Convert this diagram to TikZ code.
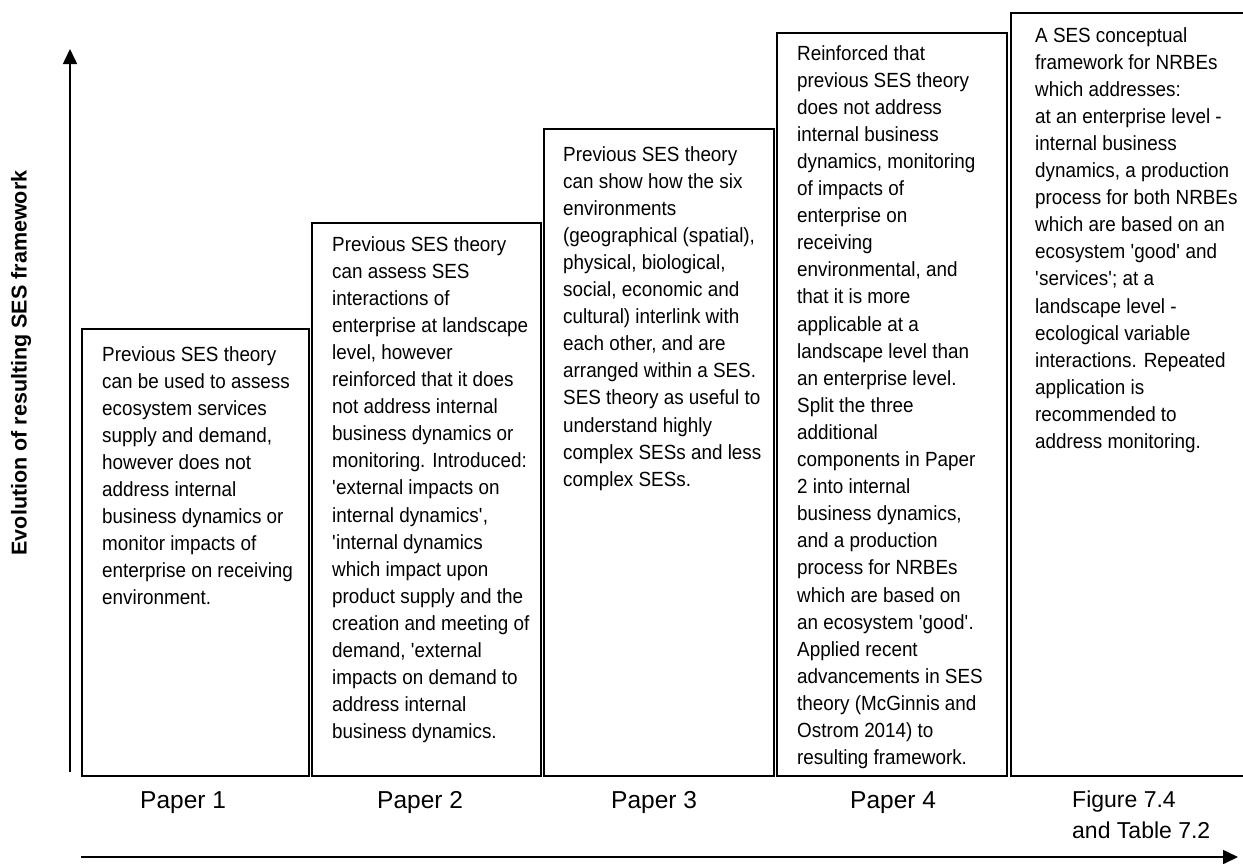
\documentclass[tikz,border=0pt]{standalone}
\usepackage{fontspec}
\setmainfont{Liberation Sans}
\newfontfamily\narrowfont{Liberation Sans}[FakeStretch=0.92]
\usetikzlibrary{arrows.meta}
\newcommand{\sq}{\textquotesingle}
\tikzset{
  stage/.style={draw=black, line width=1.6pt, anchor=north west, inner sep=0pt},
  stagetext/.style={anchor=north west, inner sep=0pt, align=left,
    font=\narrowfont\fontsize{20.5}{27.1}\selectfont},
  paperlabel/.style={anchor=base west, inner sep=0pt,
    font=\fontsize{24.5}{30}\selectfont},
  axis/.style={line width=1.6pt, -{Triangle[length=15pt,width=14pt]}}
}
\begin{document}
\begin{tikzpicture}[x=1pt,y=-1pt]
\useasboundingbox (0,0) rectangle (1243,863);
\clip (0,0) rectangle (1243,863);

% stage boxes, stepping up from left to right
\node[stage, minimum width=227pt, minimum height=447pt] (b1) at (81,328) {};
\node[stage, minimum width=229pt, minimum height=553pt] (b2) at (311,222) {};
\node[stage, minimum width=230pt, minimum height=647pt] (b3) at (543,128) {};
\node[stage, minimum width=230pt, minimum height=743pt] (b4) at (776,32) {};
\node[stage, minimum width=250pt, minimum height=763pt] (b5) at (1010,12) {};

\node[stagetext] (t1) at (102,346) {Previous SES theory\\can be used to assess\\ecosystem services\\supply and demand,\\however does not\\address internal\\business dynamics or\\monitor impacts of\\enterprise on receiving\\environment.};

\node[stagetext] (t2) at (332,236) {Previous SES theory\\can assess SES\\interactions of\\enterprise at landscape\\level, however\\reinforced that it does\\not address internal\\business dynamics or\\monitoring. Introduced:\\\sq external impacts on\\internal dynamics\sq,\\\sq internal dynamics\\which impact upon\\product supply and the\\creation and meeting of\\demand, \sq external\\impacts on demand to\\address internal\\business dynamics.};

\node[stagetext] (t3) at (563,146) {Previous SES theory\\can show how the six\\environments\\(geographical (spatial),\\physical, biological,\\social, economic and\\cultural) interlink with\\each other, and are\\arranged within a SES.\\SES theory as useful to\\understand highly\\complex SESs and less\\complex SESs.};

\node[stagetext] (t4) at (797,45) {Reinforced that\\previous SES theory\\does not address\\internal business\\dynamics, monitoring\\of impacts of\\enterprise on\\receiving\\environmental, and\\that it is more\\applicable at a\\landscape level than\\an enterprise level.\\Split the three\\additional\\components in Paper\\2 into internal\\business dynamics,\\and a production\\process for NRBEs\\which are based on\\an ecosystem \sq good\sq.\\Applied recent\\advancements in SES\\theory (McGinnis and\\Ostrom 2014) to\\resulting framework.};

\node[stagetext] (t5) at (1035,27) {A SES conceptual\\framework for NRBEs\\which addresses:\\at an enterprise level -\\internal business\\dynamics, a production\\process for both NRBEs\\which are based on an\\ecosystem \sq good\sq{} and\\\sq services\sq; at a\\landscape level -\\ecological variable\\interactions. Repeated\\application is\\recommended to\\address monitoring.};

% labels under the boxes
\node[paperlabel] (p1) at (140,808) {Paper 1};
\node[paperlabel] (p2) at (377,808) {Paper 2};
\node[paperlabel] (p3) at (611,808) {Paper 3};
\node[paperlabel] (p4) at (850,808) {Paper 4};
\node[anchor=base west, inner sep=0pt, align=left,
  font=\fontsize{23}{31}\selectfont] (p5) at (1072,838) {Figure 7.4\\and Table 7.2};

% axes
\coordinate (xs) at (81,857);
\coordinate (xe) at (1238,857);
\coordinate (ys) at (70,772);
\coordinate (ye) at (70,49);
\draw[axis] (xs) -- (xe);
\draw[axis] (ys) -- (ye);

\node[rotate=90, font=\bfseries\fontsize{21.5}{26}\selectfont] (ylab) at (21,363) {Evolution of resulting SES framework};
\end{tikzpicture}
\end{document}
